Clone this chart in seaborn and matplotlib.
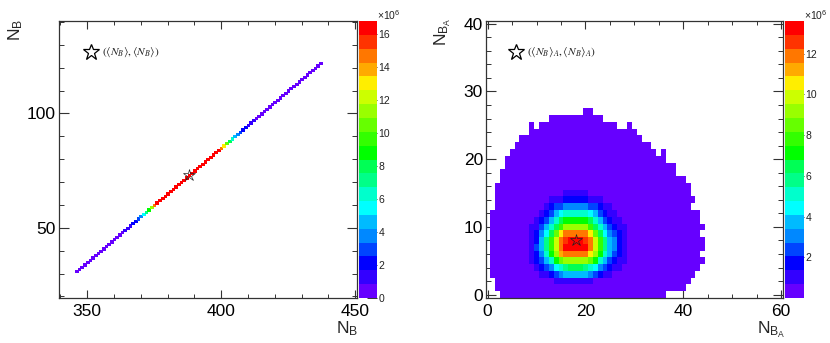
import numpy as np
import pandas as pd
import matplotlib
matplotlib.use("Agg")
import matplotlib.pyplot as plt
from matplotlib.colors import ListedColormap, BoundaryNorm
import seaborn as sns

sns.set_style("white")
plt.rcParams['font.family'] = ['Liberation Sans', 'DejaVu Sans']
plt.rcParams['mathtext.fontset'] = 'custom'
plt.rcParams['mathtext.rm'] = 'Liberation Sans'
plt.rcParams['mathtext.default'] = 'rm'

palette = ['#6600ff', '#3300ff', '#0000ff', '#0044ff', '#0088ff', '#00bbff', '#00ffff',
           '#00ffcc', '#00ff88', '#00ff55', '#00ff00', '#33ff00', '#66ff00', '#99ff00',
           '#ccff00', '#ffee00', '#ffaa00', '#ff7700', '#ff3300', '#ff0000']

# Left panel: diagonal, x = 346..437, y = x - 315, counts in millions
diag_x = list(range(346, 438))
diag_y = list(range(31, 123))
diag_counts = [0.4] * 18 + [1.3, 1.3, 1.3, 2.1, 2.1, 2.9, 3.8, 5.5, 7.1, 8.8, 11.3, 14.7] + \
              [16.4] * 24 + [14.7, 13.0, 10.5, 8.0, 6.3, 4.6, 3.8, 2.9, 2.1, 2.1, 1.3, 1.3, 1.3] + \
              [0.4] * 25
left_zmax = 16.8
left_cbar_ticks = [0, 2, 4, 6, 8, 10, 12, 14, 16]
left_xticks = [350, 400, 450]
left_yticks = [50, 100]
left_xminor = list(range(340, 451, 10))
left_yminor = list(range(20, 141, 10))
left_mean = (388, 73)
left_key = (351.4, 126.7)

# Right panel: filled extent of each row (y = 0..27)
row_first = [3, 2, 2, 1, 1, 1, 1, 1, 1, 1, 1, 1, 1, 2, 2, 2, 2, 3, 3, 4, 4, 5, 6, 7, 9, 11, 13, 20]
row_last = [36, 40, 41, 42, 43, 44, 43, 44, 44, 43, 44, 43, 43, 41, 42, 41, 41, 40, 38, 38,
            36, 34, 33, 31, 30, 26, 23, 21]
extra_cells = [(21, 36), (25, 9), (25, 29)]
base_count = 0.3
core_first_col = 9
core_first_row = 2
# Core counts in millions: columns 9..28, rows 2..15
core_counts = [
    [.3, .3, .3, .3, .3, 1, 1, 1, 1, 1, 1, 1, 1, .3, .3, .3, .3, .3, .3, .3],
    [.3, .3, 1, 1, 1.7, 2.4, 3.1, 3.7, 3.7, 3.7, 3.7, 3.7, 3.1, 2.4, 1.7, 1, 1, .3, .3, .3],
    [.3, 1, 1.7, 2.4, 3.1, 4.4, 5.1, 5.8, 6.5, 6.5, 6.5, 5.8, 5.1, 4.4, 3.1, 2.4, 1.7, 1, 1, .3],
    [1, 1.7, 2.4, 3.7, 5.1, 7.1, 8.5, 9.2, 9.2, 9.2, 9.2, 9.2, 8.5, 7.1, 5.1, 3.7, 2.4, 1.7, 1, 1],
    [1, 1.7, 3.1, 5.1, 7.1, 9.2, 11.2, 11.9, 11.9, 11.9, 11.9, 11.9, 10.5, 9.2, 7.1, 5.1, 3.7, 2.4, 1.7, 1],
    [1, 2.4, 3.7, 5.8, 7.8, 9.9, 11.9, 13.3, 13.3, 13.3, 13.3, 13.3, 11.9, 9.9, 7.8, 5.8, 3.7, 3.1, 1.7, 1],
    [1, 1.7, 3.7, 5.8, 7.8, 9.9, 11.9, 12.6, 13.3, 13.3, 13.3, 12.6, 11.9, 9.9, 7.8, 5.8, 3.7, 3.1, 1.7, 1],
    [1, 1.7, 3.1, 4.4, 6.5, 8.5, 10.5, 11.9, 11.9, 11.9, 11.9, 11.9, 10.5, 8.5, 6.5, 4.4, 3.1, 2.4, 1.7, 1],
    [1, 1, 2.4, 3.7, 5.1, 6.5, 7.8, 9.2, 9.2, 9.2, 9.2, 9.2, 7.8, 6.5, 5.1, 3.7, 2.4, 1.7, 1, 1],
    [.3, 1, 1.7, 2.4, 3.7, 5.1, 6.5, 7.1, 7.1, 7.1, 7.1, 7.1, 6.5, 5.1, 3.7, 2.4, 1.7, 1, 1, .3],
    [.3, .3, 1, 1.7, 2.4, 3.7, 4.4, 5.1, 5.1, 5.1, 5.1, 5.1, 4.4, 3.7, 2.4, 1.7, 1, 1, .3, .3],
    [.3, .3, .3, 1, 1.7, 2.4, 2.4, 3.1, 3.1, 3.1, 3.1, 3.1, 2.4, 2.4, 1.7, 1, 1, .3, .3, .3],
    [.3, .3, .3, .3, 1, 1, 1, 1.7, 1.7, 1.7, 1.7, 1.7, 1, 1, 1, .3, .3, .3, .3, .3],
    [.3, .3, .3, .3, .3, .3, .3, 1, 1, 1, 1, 1, .3, .3, .3, .3, .3, .3, .3, .3],
]
right_zmax = 13.6
right_cbar_ticks = [2, 4, 6, 8, 10, 12]
right_xticks = [0, 20, 40, 60]
right_yticks = [0, 10, 20, 30, 40]
right_xminor = list(range(0, 61, 5))
right_yminor = list(range(0, 41, 2))
right_mean = (18, 8)
right_key = (5.7, 35.8)

W, H = 830, 343
FRAME = '#333333'


def axes_px(fig, x0, x1, y0, y1):
    return fig.add_axes([x0 / W, 1 - y1 / H, (x1 - x0) / W, (y1 - y0) / H])


def panel(fig, frame, grid, x0, y0, xlim, ylim, zmax, cticks, xt, yt, xm, ym,
          mean, key, key_text, key_dx, xlabel, ylabel, xlab_px, ylab_px, xt_len, yt_len, cell_lw):
    ax = axes_px(fig, *frame[0])
    cax = axes_px(fig, *frame[1])
    bounds = np.linspace(0, zmax, len(palette) + 1)
    cmap = ListedColormap(palette)
    norm = BoundaryNorm(bounds, cmap.N)
    sns.heatmap(grid, ax=ax, cbar_ax=cax, cmap=cmap, norm=norm,
                xticklabels=False, yticklabels=False, linewidths=cell_lw, linecolor='face')
    ax.set_xlabel('')
    ax.set_ylabel('')
    tx = lambda v: np.asarray(v, float) - x0 + 0.5
    ty = lambda v: np.asarray(v, float) - y0 + 0.5
    ax.set_xlim(tx(xlim[0]), tx(xlim[1]))
    ax.set_ylim(ty(ylim[0]), ty(ylim[1]))
    ax.set_xticks(tx(xt))
    ax.set_xticklabels([str(v) for v in xt])
    ax.set_yticks(ty(yt))
    ax.set_yticklabels([str(v) for v in yt])
    ax.set_xticks(tx(xm), minor=True)
    ax.set_yticks(ty(ym), minor=True)
    ax.tick_params(axis='x', which='major', direction='in', length=xt_len, width=0.8, color=FRAME,
                   top=True, bottom=True, labelsize=12.5, pad=4, labelcolor='black')
    ax.tick_params(axis='y', which='major', direction='in', length=yt_len, width=0.8, color=FRAME,
                   left=True, right=True, labelsize=12.5, pad=2, labelcolor='black')
    ax.tick_params(axis='x', which='minor', direction='in', length=xt_len * 0.55, width=0.7,
                   color=FRAME, top=True, bottom=True)
    ax.tick_params(axis='y', which='minor', direction='in', length=yt_len * 0.5, width=0.7,
                   color=FRAME, left=True, right=True)
    for s in ax.spines.values():
        s.set_visible(True)
        s.set_color(FRAME)
        s.set_linewidth(0.9)
    ax.plot(tx(mean[0]), ty(mean[1]), marker='*', ms=9, mfc='none', mec='#222222', mew=0.5,
            ls='none', zorder=5)
    ax.plot(tx(key[0]), ty(key[1]), marker='*', ms=12, mfc='none', mec='black', mew=0.9,
            ls='none', zorder=5)
    fig.text((frame[0][0] + key_dx) / W, 1 - 52 / H, key_text, fontsize=8.2, color='#222222',
             va='center', ha='left', math_fontfamily='stix')
    fig.text(xlab_px[0] / W, 1 - xlab_px[1] / H, xlabel, fontsize=12.5, ha='center', va='center')
    fig.text(ylab_px[0] / W, 1 - ylab_px[1] / H, ylabel, fontsize=12.5, rotation=90,
             ha='center', va='center')
    cb = ax.collections[0].colorbar
    cb.outline.set_visible(False)
    cax.set_yticks(cticks)
    cax.set_yticklabels([str(v) for v in cticks])
    cax.minorticks_off()
    cax.tick_params(axis='y', which='major', direction='in', length=7, width=0.7, color='#333333',
                    right=True, left=False, labelsize=7.5, pad=1, labelcolor='#222222')
    x1 = frame[1][1]
    fig.text((x1 + 0) / W, 1 - 15.5 / H, r'$\times 10^{6}$', fontsize=7.5, ha='left', va='center',
             color='#222222')


fig = plt.figure(figsize=(W / 100, H / 100), dpi=100, facecolor='white')

# Left grid
left_df = pd.DataFrame(np.full((len(diag_y), len(diag_x)), np.nan), index=diag_y, columns=diag_x)
for xv, yv, c in zip(diag_x, diag_y, diag_counts):
    left_df.loc[yv, xv] = c

panel(fig, [(58.5, 357, 21, 298), (358.7, 377, 21, 298)], left_df, diag_x[0], diag_y[0],
      (339.3, 450.7), (19.3, 140.4), left_zmax, left_cbar_ticks, left_xticks, left_yticks,
      left_xminor, left_yminor, left_mean, left_key,
      r'$(\langle \mathit{N}_{\mathit{B}}\rangle, \langle \mathit{N}_{\mathit{B}}\rangle)$', 43.5,
      r'N$_{\mathrm{B}}$', r'N$_{\mathrm{B}}$', (347, 328.5), (16, 30), 5.5, 7.5, 0.7)

# Right grid
right_arr = np.full((len(row_first), 45), np.nan)
for r, (a, b) in enumerate(zip(row_first, row_last)):
    right_arr[r, a:b + 1] = base_count
for r, c in extra_cells:
    right_arr[r, c] = base_count
core = np.array(core_counts, float)
right_arr[core_first_row:core_first_row + core.shape[0],
          core_first_col:core_first_col + core.shape[1]] = core
right_df = pd.DataFrame(right_arr)

panel(fig, [(485.7, 783, 21, 298), (785.3, 804, 21, 298)], right_df, 0, 0,
      (-0.4, 60.4), (-0.5, 40.4), right_zmax, right_cbar_ticks, right_xticks, right_yticks,
      right_xminor, right_yminor, right_mean, right_key,
      r'$(\langle \mathit{N}_{\mathit{B}}\rangle_{\mathit{A}}, \langle \mathit{N}_{\mathit{B}}\rangle_{\mathit{A}})$', 41,
      r'N$_{\mathrm{B}_{\mathrm{A}}}$', r'N$_{\mathrm{B}_{\mathrm{A}}}$', (771.5, 329.5), (443, 32), 5.5, 7.5, 0)

fig.savefig('out.png', dpi=100, facecolor='white')
